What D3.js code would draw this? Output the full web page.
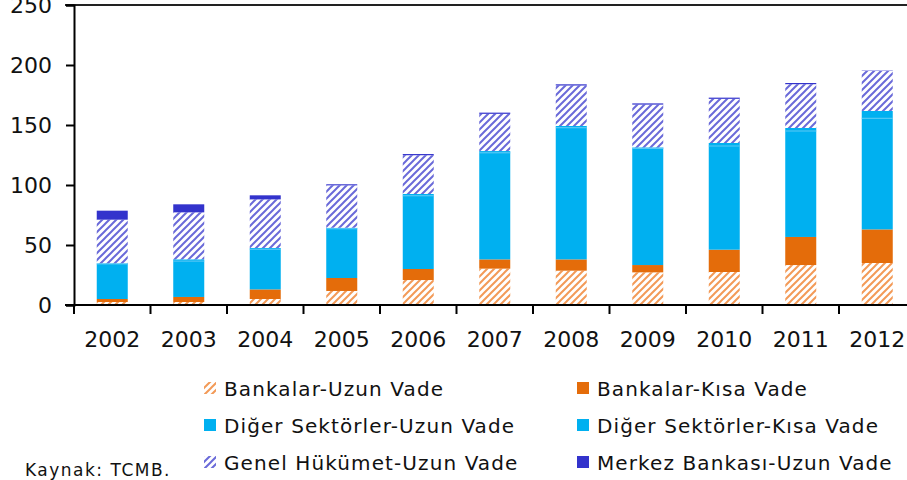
<!DOCTYPE html>
<html>
<head>
<meta charset="utf-8">
<script src="https://cdn.jsdelivr.net/npm/d3@7"></script>
<style>
  body { margin: 0; background: #fff; }
  svg { display: block; font-family: "DejaVu Sans", sans-serif; }
</style>
</head>
<body>
<div id="wrapper"></div>
<script>
// data (milyar $)
const years = ["2002", "2003", "2004", "2005", "2006", "2007", "2008", "2009", "2010", "2011", "2012"]
const bankalarUzun = [2.5, 2.5, 5, 11.7, 20.8, 30.3, 28.6, 27.2, 27.5, 33.3, 35]
const bankalarKisa = [2.5, 4.2, 8, 10.8, 9.2, 7.7, 9.4, 6.1, 18.6, 23.4, 28]
const digerUzun = [29.2, 29.9, 33.5, 41, 61, 88.8, 109.7, 97.1, 86.4, 88.3, 92.6]
const digerKisa = [0.5, 1.5, 1, 0.9, 1.5, 1.5, 1.5, 1, 2.5, 2.5, 6.1]
const genelHukumet = [36.4, 39.1, 40.5, 35.3, 32.3, 31, 33.7, 35.6, 36.8, 36.5, 33.3]
const merkezBankasi = [7.5, 6.7, 3.4, 0.9, 1, 1, 1, 1, 1, 1, 0.3]
const yTicks = [0, 50, 100, 150, 200, 250]

const seriesNames = [
  "Bankalar-Uzun Vade", "Bankalar-Kısa Vade",
  "Diğer Sektörler-Uzun Vade", "Diğer Sektörler-Kısa Vade",
  "Genel Hükümet-Uzun Vade", "Merkez Bankası-Uzun Vade"
]
const seriesValues = [bankalarUzun, bankalarKisa, digerUzun, digerKisa, genelHukumet, merkezBankasi]

const width = 907, height = 480
const plot = { left: 74, top: 5, bottom: 305, right: 915.5 }

const svg = d3.select("#wrapper").append("svg")
  .attr("width", width)
  .attr("height", height)

// hatch patterns
const defs = svg.append("defs")
function hatch(id, color) {
  const p = defs.append("pattern")
    .attr("id", id)
    .attr("patternUnits", "userSpaceOnUse")
    .attr("width", 7)
    .attr("height", 7)
  p.append("rect").attr("width", 7).attr("height", 7).attr("fill", "#fff")
  p.append("path")
    .attr("d", "M-1,1 l2,-2 M0,7 l7,-7 M6,8 l2,-2")
    .attr("stroke", color)
    .attr("stroke-width", 2)
}
hatch("hatchOrange", "#F39A57")
hatch("hatchBlue", "#6A6AD9")

const fills = ["url(#hatchOrange)", "#E46C0A", "#00B0F0", "#00B0F0", "url(#hatchBlue)", "#3333CC"]

const table = years.map((y, i) => {
  const row = { year: y }
  seriesNames.forEach((s, j) => row[s] = seriesValues[j][i])
  return row
})
const stacked = d3.stack().keys(seriesNames)(table)

const x = d3.scaleBand()
  .domain(years)
  .range([plot.left, plot.right])
const barW = 31

const y = d3.scaleLinear()
  .domain([0, 250])
  .range([plot.bottom, plot.top])

// bars
const layers = svg.append("g").selectAll("g")
  .data(stacked)
  .join("g")
  .attr("fill", (d, i) => fills[i])

layers.selectAll("rect")
  .data(d => d)
  .join("rect")
  .attr("x", d => x(d.data.year) + x.bandwidth() / 2 - barW / 2)
  .attr("width", barW)
  .attr("y", d => y(d[1]))
  .attr("height", d => y(d[0]) - y(d[1]))

// faint seam between the two blue series
svg.append("g").selectAll("line")
  .data(stacked[3])
  .join("line")
  .attr("x1", d => x(d.data.year) + x.bandwidth() / 2 - barW / 2)
  .attr("x2", d => x(d.data.year) + x.bandwidth() / 2 + barW / 2)
  .attr("y1", d => y(d[0]))
  .attr("y2", d => y(d[0]))
  .attr("stroke", "#5cc9f5")
  .attr("stroke-width", 1)

// top border
svg.append("line")
  .attr("x1", 65).attr("x2", width)
  .attr("y1", y(250)).attr("y2", y(250))
  .attr("stroke", "#222")
  .attr("stroke-width", 2)

// y axis
svg.append("g")
  .attr("transform", `translate(${plot.left},0)`)
  .call(d3.axisLeft(y).tickValues(yTicks).tickSize(8).tickPadding(14))
  .call(g => g.select(".domain").attr("stroke", "#000").attr("stroke-width", 2))
  .call(g => g.selectAll(".tick line").attr("stroke", "#000").attr("stroke-width", 2))
  .call(g => g.selectAll(".tick text")
    .attr("font-size", 22)
    .attr("font-family", "DejaVu Sans")
    .attr("fill", "#111"))

// x axis
const xAxis = svg.append("g")
  .attr("transform", `translate(0,${plot.bottom})`)
xAxis.append("line")
  .attr("x1", 65).attr("x2", width)
  .attr("stroke", "#000").attr("stroke-width", 2)
xAxis.selectAll(".sep")
  .data(years.concat(["end"]))
  .join("line")
  .attr("class", "sep")
  .attr("x1", (d, i) => plot.left + i * x.step())
  .attr("x2", (d, i) => plot.left + i * x.step())
  .attr("y1", 0).attr("y2", 9)
  .attr("stroke", "#000").attr("stroke-width", 2)
xAxis.selectAll("text")
  .data(years)
  .join("text")
  .attr("x", d => x(d) + x.bandwidth() / 2)
  .attr("y", 42)
  .attr("text-anchor", "middle")
  .attr("font-size", 22)
  .attr("fill", "#111")
  .text(d => d)

// legend
const legend = svg.append("g")
const legendItems = legend.selectAll("g")
  .data(seriesNames)
  .join("g")
  .attr("transform", (d, i) => `translate(${i % 2 === 0 ? 204 : 577},${388 + Math.floor(i / 2) * 37})`)
legendItems.append("rect")
  .attr("x", 0).attr("y", -6)
  .attr("width", 12).attr("height", 12)
  .attr("fill", (d, i) => fills[i])
legendItems.append("text")
  .attr("x", 20)
  .attr("y", 7.5)
  .attr("font-size", 20)
  .attr("letter-spacing", 1.1)
  .attr("fill", "#111")
  .text(d => d)

svg.append("text")
  .attr("x", 25)
  .attr("y", 476)
  .attr("font-size", 17)
  .attr("letter-spacing", 1.5)
  .attr("fill", "#111")
  .text("Kaynak: TCMB.")
</script>
</body>
</html>
